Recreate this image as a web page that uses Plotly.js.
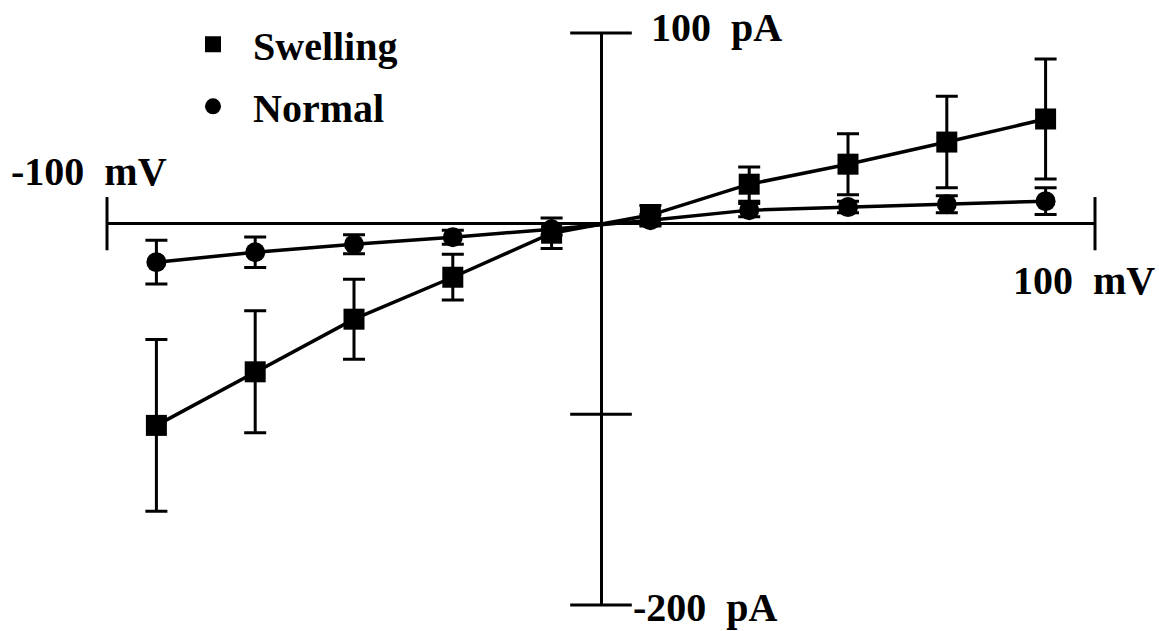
<!DOCTYPE html>
<html><head><meta charset="utf-8">
<script src="https://cdn.plot.ly/plotly-3.0.1.min.js"></script>
<style>html,body{margin:0;padding:0;background:#fff}#chart{width:1159px;height:631px}</style>
</head><body><div id="chart"></div>
<script>
// Membrane potential (mV)
const voltage = [-90, -70, -50, -30, -10, 10, 30, 50, 70, 90];
// Current (pA), mean and error
const swelling    = [-105.8, -77.7, -50.1, -28.1, -5.0, 4.5, 20.7, 31.2, 42.8, 54.9];
const swellingErr = [45, 32, 21, 12, 8, 5, 9, 16, 24, 31.5];
const normal      = [-20.2, -15.0, -10.8, -7.1, -2.9, 1.8, 7.1, 8.7, 10.2, 11.8];
const normalErr   = [11.5, 8, 5, 3.7, 3, 3, 3.5, 3, 4.5, 7];
// Axis end ticks
const xTickVals = [-100, 100];
const yTickVals = [100, -100, -200];
const xLabels = ['-100\u00a0\u00a0mV', '100\u00a0\u00a0mV'];
const yLabels = ['100\u00a0\u00a0pA', '-200\u00a0\u00a0pA'];
const seriesNames = ['Swelling', 'Normal'];

const FONT = '"Liberation Serif", "Times New Roman", serif';
const black = '#000';
const bold = s => '<b>' + s + '</b>';

const traces = [
  {
    x: voltage, y: normal, type: 'scatter', mode: 'lines+markers', showlegend: false,
    line: {color: black, width: 3.5},
    marker: {symbol: 'circle', size: 20, color: black},
    error_y: {type: 'data', array: normalErr, visible: true, color: black, thickness: 3, width: 11},
    cliponaxis: false, hoverinfo: 'skip'
  },
  {
    x: voltage, y: swelling, type: 'scatter', mode: 'lines+markers', showlegend: false,
    line: {color: black, width: 3.5},
    marker: {symbol: 'square', size: 21, color: black},
    error_y: {type: 'data', array: swellingErr, visible: true, color: black, thickness: 3, width: 11},
    cliponaxis: false, hoverinfo: 'skip'
  },
  {
    x: xTickVals, y: xTickVals.map(() => 0), type: 'scatter', mode: 'markers', showlegend: false,
    marker: {symbol: 'line-ns', size: 38, line: {width: 3, color: black}},
    cliponaxis: false, hoverinfo: 'skip'
  },
  {
    x: yTickVals.map(() => 0), y: yTickVals, type: 'scatter', mode: 'markers', showlegend: false,
    marker: {symbol: 'line-ew', size: 44, line: {width: 3, color: black}},
    cliponaxis: false, hoverinfo: 'skip'
  },
  {
    x: [null], y: [null], type: 'scatter', mode: 'markers', name: bold(seriesNames[0]),
    legendgroup: 'a', marker: {symbol: 'square', size: 20, color: black}
  },
  {
    x: [null], y: [null], type: 'scatter', mode: 'markers', name: bold(seriesNames[1]),
    legendgroup: 'b', marker: {symbol: 'circle', size: 20, color: black}
  }
];

const labelFont = {family: FONT, size: 40, color: black};
const annotations = [
  {x: xTickVals[0], y: 0, xref: 'x', yref: 'y', text: bold(xLabels[0]), showarrow: false,
   xanchor: 'left', yanchor: 'middle', xshift: -98, yshift: 52, font: labelFont},
  {x: xTickVals[1], y: 0, xref: 'x', yref: 'y', text: bold(xLabels[1]), showarrow: false,
   xanchor: 'right', yanchor: 'middle', xshift: 62, yshift: -57, font: labelFont},
  {x: 0, y: yTickVals[0], xref: 'x', yref: 'y', text: bold(yLabels[0]), showarrow: false,
   xanchor: 'left', yanchor: 'middle', xshift: 48, yshift: 6, font: labelFont},
  {x: 0, y: yTickVals[2], xref: 'x', yref: 'y', text: bold(yLabels[1]), showarrow: false,
   xanchor: 'left', yanchor: 'middle', xshift: 30, yshift: -2, font: labelFont}
];

const layout = {
  width: 1159, height: 631,
  margin: {l: 107, r: 64, t: 33, b: 26},
  paper_bgcolor: '#fff', plot_bgcolor: '#fff',
  font: {family: FONT, color: black},
  xaxis: {range: [-100, 100], showgrid: false, showticklabels: false, ticks: '',
          showline: false, zeroline: true, zerolinecolor: black, zerolinewidth: 3},
  yaxis: {range: [-200, 100], showgrid: false, showticklabels: false, ticks: '',
          showline: false, zeroline: true, zerolinecolor: black, zerolinewidth: 3},
  showlegend: true,
  legend: {x: 0.0668, y: 1.037, xanchor: 'left', yanchor: 'top', itemwidth: 70,
           tracegroupgap: 7, bgcolor: 'rgba(0,0,0,0)',
           font: {family: FONT, size: 40, color: black}},
  annotations: annotations
};

Plotly.newPlot('chart', traces, layout, {displayModeBar: false, staticPlot: true});
</script>
</body></html>
